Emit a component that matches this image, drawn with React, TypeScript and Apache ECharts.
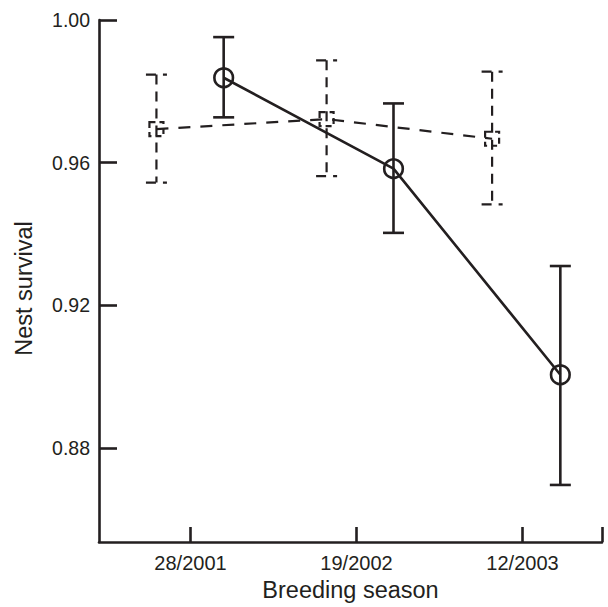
import React, { useEffect, useRef } from "react";
import * as echarts from "echarts";

const seasons = ["28/2001", "19/2002", "12/2003"];
const seasonTicks = [0, 1, 2];
const yTicks = [0.88, 0.92, 0.96, 1.0];

// solid series (circles)
const solidX = [0.2, 1.223, 2.228];
const solidY = [0.9838, 0.9583, 0.9005];
const solidLow = [0.9727, 0.9403, 0.8696];
const solidHigh = [0.9952, 0.9766, 0.931];

// dashed series (squares)
const dashedX = [-0.205, 0.82, 1.817];
const dashedY = [0.9694, 0.9722, 0.9667];
const dashedLow = [0.9544, 0.9562, 0.9483];
const dashedHigh = [0.9847, 0.9887, 0.9855];

const X_MIN = -0.551;
const X_MAX = 2.479;
const Y_MIN = 0.8536;
const Y_MAX = 1.0;

const INK = "#231f20";
const FONT = "'Liberation Sans', Arial, Helvetica, sans-serif";

function makeRenderer(dashed: boolean) {
  return (params: any, api: any) => {
    const x = api.value(0);
    const y = api.value(1);
    const lo = api.value(2);
    const hi = api.value(3);
    const c = api.coord([x, y]);
    const l = api.coord([x, lo]);
    const h = api.coord([x, hi]);
    const cap = 10.5;
    const style: any = {
      stroke: INK,
      lineWidth: dashed ? 2.2 : 2.6,
      fill: "none",
    };
    if (dashed) style.lineDash = [10, 7];
    const children: any[] = [
      { type: "line", shape: { x1: h[0], y1: h[1], x2: l[0], y2: l[1] }, style },
      { type: "line", shape: { x1: h[0] - cap, y1: h[1], x2: h[0] + cap, y2: h[1] }, style },
      { type: "line", shape: { x1: l[0] - cap, y1: l[1], x2: l[0] + cap, y2: l[1] }, style },
    ];
    if (dashed) {
      children.push({
        type: "rect",
        shape: { x: c[0] - 7, y: c[1] - 7, width: 14, height: 14 },
        style: { stroke: INK, lineWidth: 2.2, fill: "none", lineDash: [6, 4] },
      });
    } else {
      children.push({
        type: "circle",
        shape: { cx: c[0], cy: c[1], r: 9.3 },
        style: { stroke: INK, lineWidth: 2.6, fill: "none" },
      });
    }
    return { type: "group", children };
  };
}

export default function App() {
  const ref = useRef<HTMLDivElement>(null);
  useEffect(() => {
    if (!ref.current) return;
    const chart = echarts.init(ref.current, null, { renderer: "svg" });
    const solidData = solidX.map((x, i) => [x, solidY[i], solidLow[i], solidHigh[i]]);
    const dashedData = dashedX.map((x, i) => [x, dashedY[i], dashedLow[i], dashedHigh[i]]);
    chart.setOption({
      animation: false,
      backgroundColor: "#ffffff",
      grid: { left: 99, right: 6, top: 20, bottom: 60, containLabel: false },
      xAxis: {
        type: "value",
        min: X_MIN,
        max: X_MAX,
        name: "Breeding season",
        nameLocation: "middle",
        nameGap: 36,
        nameTextStyle: { fontFamily: FONT, fontSize: 23.5, color: INK },
        axisLine: { show: true, onZero: false, lineStyle: { color: INK, width: 2.6 } },
        axisTick: {
          show: true,
          inside: true,
          length: 15,
          customValues: [...seasonTicks, X_MAX],
          lineStyle: { color: INK, width: 2.6 },
        },
        axisLabel: {
          customValues: seasonTicks,
          margin: 11,
          fontFamily: FONT,
          fontSize: 20,
          color: INK,
          formatter: (v: number) => seasons[Math.round(v)] ?? "",
        },
        splitLine: { show: false },
      },
      yAxis: {
        type: "value",
        min: Y_MIN,
        max: Y_MAX,
        name: "Nest survival",
        nameLocation: "middle",
        nameGap: 63,
        nameTextStyle: { fontFamily: FONT, fontSize: 23.5, color: INK, padding: [0, 15, 0, 0] },
        axisLine: { show: true, onZero: false, lineStyle: { color: INK, width: 2.6 } },
        axisTick: {
          show: true,
          inside: true,
          length: 18,
          customValues: yTicks,
          lineStyle: { color: INK, width: 2.6 },
        },
        axisLabel: {
          customValues: yTicks,
          margin: 9,
          fontFamily: FONT,
          fontSize: 19.5,
          color: INK,
          showMaxLabel: true,
          formatter: (v: number) => v.toFixed(2),
        },
        splitLine: { show: false },
      },
      series: [
        {
          type: "line",
          data: dashedX.map((x, i) => [x, dashedY[i]]),
          symbol: "none",
          lineStyle: { color: INK, width: 2.2, type: [12, 10] },
          z: 2,
        },
        {
          type: "line",
          data: solidX.map((x, i) => [x, solidY[i]]),
          symbol: "none",
          lineStyle: { color: INK, width: 2.6 },
          z: 2,
        },
        {
          type: "custom",
          renderItem: makeRenderer(true),
          data: dashedData,
          encode: { x: 0, y: [1, 2, 3] },
          z: 3,
        },
        {
          type: "custom",
          renderItem: makeRenderer(false),
          data: solidData,
          encode: { x: 0, y: [1, 2, 3] },
          z: 3,
        },
      ],
    });
    return () => chart.dispose();
  }, []);
  return (
    <div
      ref={ref}
      style={{ position: "absolute", left: 0, top: 0, width: 608, height: 607 }}
    />
  );
}
